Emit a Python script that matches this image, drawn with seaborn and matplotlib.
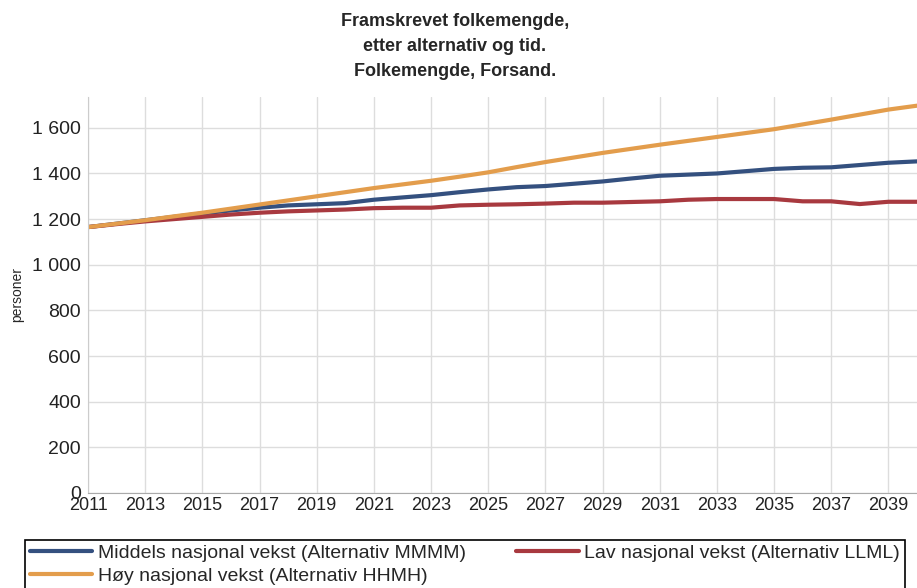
import pandas as pd
import seaborn as sns
import matplotlib.pyplot as plt
from matplotlib.ticker import FuncFormatter, MultipleLocator

years = list(range(2011, 2041))

middels = [1165, 1180, 1195, 1210, 1225, 1238, 1250, 1260, 1265, 1270,
           1285, 1295, 1305, 1318, 1330, 1340, 1345, 1355, 1365, 1378,
           1390, 1395, 1400, 1410, 1420, 1425, 1427, 1437, 1447, 1453]
lav = [1165, 1178, 1190, 1200, 1210, 1220, 1228, 1234, 1238, 1242,
       1248, 1250, 1250, 1260, 1263, 1265, 1268, 1272, 1272, 1275,
       1278, 1285, 1288, 1288, 1288, 1278, 1278, 1266, 1276, 1276]
hoy = [1165, 1180, 1195, 1212, 1228, 1246, 1264, 1282, 1300, 1318,
       1336, 1352, 1368, 1386, 1405, 1428, 1450, 1470, 1490, 1508,
       1526, 1543, 1560, 1577, 1594, 1615, 1636, 1658, 1680, 1697]
xticks = list(range(2011, 2040, 2))

labels = ["Middels nasjonal vekst (Alternativ MMMM)",
          "Lav nasjonal vekst (Alternativ LLML)",
          "Høy nasjonal vekst (Alternativ HHMH)"]
colors = ["#34507f", "#a8393f", "#e39d4c"]

df = pd.DataFrame({
    "år": years * 3,
    "personer": middels + lav + hoy,
    "alternativ": [labels[0]] * 30 + [labels[1]] * 30 + [labels[2]] * 30,
})

sns.set_style("white")
plt.rcParams['font.family'] = ['Liberation Sans', 'DejaVu Sans']

fig = plt.figure(figsize=(9.17, 5.88), dpi=100)
ax = fig.add_axes([0.096, 0.1616, 0.904, 0.6734])

sns.lineplot(data=df, x="år", y="personer", hue="alternativ", hue_order=labels,
             palette=colors, linewidth=3, ax=ax, legend=False)

ax.set_xlim(2011, 2040)
ax.set_ylim(0, 1735)
ax.set_xticks(xticks)
ax.yaxis.set_major_locator(MultipleLocator(200))
ax.yaxis.set_major_formatter(FuncFormatter(lambda v, p: f"{int(v):,}".replace(",", " ")))
ax.grid(True, color="#dddddd", linewidth=1)
ax.tick_params(axis="x", labelsize=13, length=0, pad=3, labelcolor="#222222")
ax.tick_params(axis="y", labelsize=14, length=0, pad=5, labelcolor="#222222")
ax.set_xlabel("")
ax.set_ylabel("personer", fontsize=10, labelpad=6)
for s in ["top", "right"]:
    ax.spines[s].set_visible(False)
ax.spines["left"].set_color("#cccccc")
ax.spines["bottom"].set_color("#aaaaaa")

fig.text(0.496, 0.978, "Framskrevet folkemengde,\netter alternativ og tid.\nFolkemengde, Forsand.",
         ha="center", va="top", fontsize=13, fontweight="bold", linespacing=1.6)

lines = ax.get_lines()
handles = [lines[0], lines[2], lines[1]]
leg_labels = [labels[0], labels[2], labels[1]]
leg = fig.legend(handles, leg_labels, loc="upper left", ncol=2,
                 bbox_to_anchor=(0.027, -0.02, 0.96, 0.102), mode="expand",
                 fontsize=14, handlelength=3.2, frameon=True, fancybox=False,
                 framealpha=1, borderaxespad=0, labelspacing=0.25,
                 handletextpad=0.3, borderpad=0.25)
leg.get_frame().set_edgecolor("black")
leg.get_frame().set_linewidth(1.2)

fig.savefig("out.png", dpi=100)
